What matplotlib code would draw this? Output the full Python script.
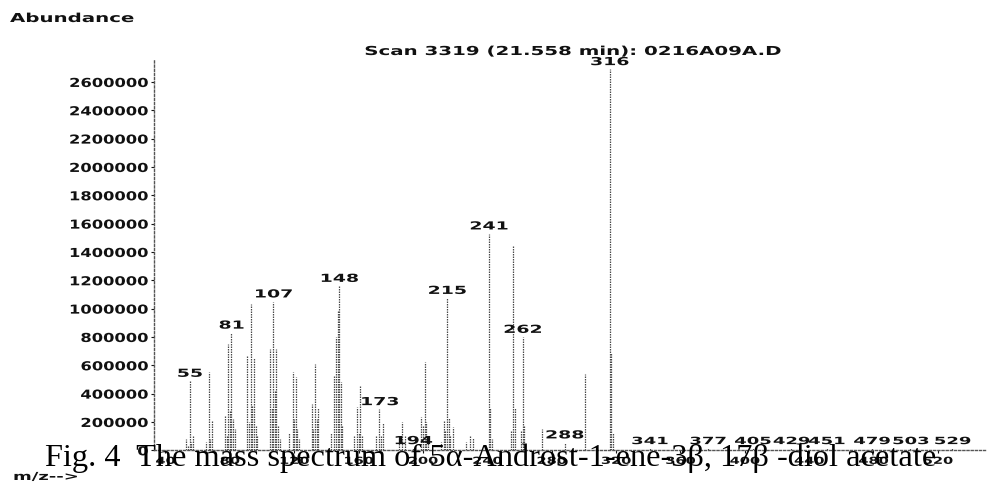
import matplotlib
matplotlib.use("Agg")
import matplotlib.pyplot as plt
from matplotlib.patheffects import AbstractPathEffect
from matplotlib.transforms import Affine2D

# =========================
# DATA
# =========================

mz = [53, 54, 55, 56, 57, 65, 67, 68, 69, 77, 78, 79, 80, 81, 82, 83,
      91, 92, 93, 94, 95, 96, 97, 105, 106, 107, 108, 109, 110, 111,
      117, 119, 120, 121, 122, 123, 131, 132, 133, 134, 135,
      143, 145, 146, 147, 148, 149, 150, 157, 159, 160, 161, 162,
      171, 173, 174, 175, 185, 187, 189, 194, 199, 200, 201, 202, 203,
      211, 213, 214, 215, 216, 217, 219, 227, 229, 231, 241, 242, 243,
      255, 256, 257, 261, 262, 263, 274, 288, 301, 316, 317, 318,
      341, 377, 405, 429, 451, 479, 503, 529]

abundance = [80000, 40000, 490000, 60000, 100000, 60000, 555000, 80000, 205000,
             240000, 100000, 750000, 280000, 830000, 220000, 150000,
             665000, 200000, 1030000, 320000, 655000, 180000, 100000,
             715000, 300000, 1050000, 420000, 715000, 180000, 80000,
             120000, 550000, 220000, 515000, 150000, 80000,
             330000, 150000, 610000, 220000, 300000,
             120000, 530000, 800000, 985000, 1160000, 480000, 180000,
             100000, 305000, 120000, 455000, 100000,
             100000, 290000, 100000, 190000, 80000, 200000, 100000, 15000,
             235000, 180000, 620000, 200000, 100000,
             60000, 210000, 140000, 1075000, 230000, 100000, 165000,
             60000, 100000, 85000, 1530000, 300000, 80000,
             140000, 1440000, 300000, 135000, 800000, 180000, 150000,
             55000, 540000, 2690000, 690000, 120000,
             15000, 15000, 15000, 15000, 15000, 15000, 15000, 15000]

big_labels = [55, 81, 107, 148, 173, 194, 215, 241, 262, 288, 316]
small_labels = [341, 377, 405, 429, 451, 479, 503, 529]

y_ticks = list(range(0, 2600001, 200000))
x_ticks = list(range(40, 541, 40))

title = "Scan 3319 (21.558 min): 0216A09A.D"
caption = "Fig. 4  The mass spectrum of 5\u03b1-Androst-1-ene-3\u03b2, 17\u03b2 -diol acetate"


# =========================
# WIDE PRINTER FONT
# =========================

class Stretch(AbstractPathEffect):
    # widen glyphs horizontally, keeping the alignment anchor fixed
    def __init__(self, sx=1.7, anchor=0.5):
        super().__init__()
        self.sx = sx
        self.anchor = anchor

    def draw_path(self, renderer, gc, tpath, affine, rgbFace=None):
        verts = tpath.vertices
        w = verts[:, 0].max() if len(verts) else 0
        x0 = w * self.anchor
        t = Affine2D().translate(-x0, 0).scale(self.sx, 1).translate(x0, 0)
        renderer.draw_path(gc, tpath, t + affine, rgbFace)


SANS = "DejaVu Sans"
INK = "#111111"

fig = plt.figure(figsize=(9.88, 4.85), dpi=100)

# axes box in pixels: x 154..985, y 60..451
ax = fig.add_axes([154 / 988, (485 - 451.3) / 485,
                   (985 - 154) / 988, (451.3 - 60) / 485])

ax.vlines(mz, 0, abundance, colors="#4a4a4a", linewidth=0.9,
          linestyles=(0, (1.2, 0.8)))

ax.set_xlim(32.9, 549.3)
ax.set_ylim(0, 2.762e6)

for side in ["top", "right"]:
    ax.spines[side].set_visible(False)
for side in ["left", "bottom"]:
    ax.spines[side].set_linestyle((0, (1.5, 1.5)))
    ax.spines[side].set_color("#555555")
    ax.spines[side].set_linewidth(1.0)

ax.set_yticks(y_ticks, [str(v) for v in y_ticks])
ax.set_xticks(x_ticks, [str(v) for v in x_ticks])
ax.tick_params(axis="y", length=2, width=0.8, pad=2, colors=INK,
               labelsize=8.9)
ax.tick_params(axis="x", length=2, width=0.8, pad=2, colors=INK,
               labelsize=7)

for lab in ax.get_yticklabels():
    lab.set_family(SANS)
    lab.set_weight("bold")
    lab.set_path_effects([Stretch(1.32, 1.0)])
for lab in ax.get_xticklabels():
    lab.set_family(SANS)
    lab.set_weight("bold")
    lab.set_path_effects([Stretch(1.5, 0.5)])

# PEAK LABELS
peak_height = dict(zip(mz, abundance))

for m in big_labels:
    ax.annotate(str(m), (m, peak_height[m]), xytext=(0, 1.5),
                textcoords="offset points", ha="center", va="bottom",
                fontsize=8, family=SANS, weight="bold", color=INK,
                path_effects=[Stretch(1.7, 0.5)])

for m in small_labels:
    ax.annotate(str(m), (m, peak_height[m]), xytext=(0, 1.5),
                textcoords="offset points", ha="center", va="bottom",
                fontsize=7.2, family=SANS, weight="bold", color=INK,
                path_effects=[Stretch(1.8, 0.5)])

# TEXTS
fig.text(10 / 988, 1 - 19.5 / 485, "Abundance", ha="left", va="center",
         fontsize=8.9, family=SANS, weight="bold", color=INK,
         path_effects=[Stretch(1.6, 0.0)])

fig.text(572.5 / 988, 1 - 52.5 / 485, title, ha="center", va="center",
         fontsize=8.9, family=SANS, weight="bold", color=INK,
         path_effects=[Stretch(1.6, 0.5)])

fig.text(13 / 988, 1 - 478 / 485, "m/z-->", ha="left", va="center",
         fontsize=8, family=SANS, weight="bold", color=INK,
         path_effects=[Stretch(1.62, 0.0)])

fig.text(45 / 988, 1 - 466 / 485, caption, ha="left", va="baseline",
         fontsize=23.3, family="Liberation Serif", color="black")

fig.savefig("out.png", dpi=100)
